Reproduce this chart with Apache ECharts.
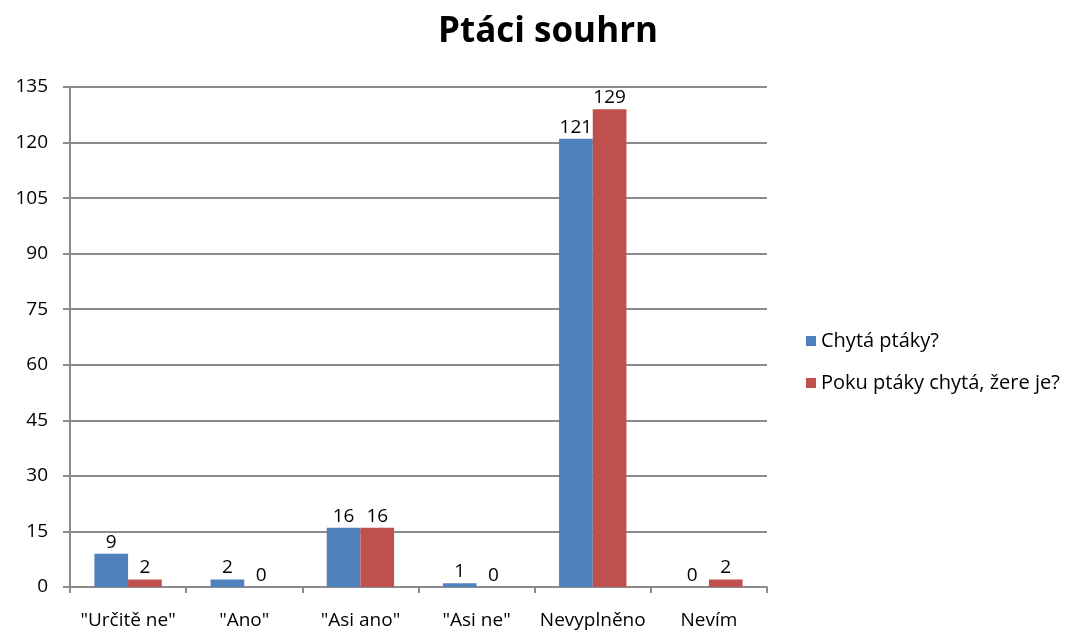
<!DOCTYPE html>
<html>
<head>
<meta charset="utf-8">
<script src="https://cdn.jsdelivr.net/npm/echarts@6/dist/echarts.min.js"></script>
<style>
  html, body { margin: 0; padding: 0; background: #fff; }
  #chart { width: 1075px; height: 635px; }
</style>
</head>
<body>
<div id="chart"></div>
<script>
// data
const categories = ['"Určitě ne"', '"Ano"', '"Asi ano"', '"Asi ne"', 'Nevyplněno', 'Nevím']
const chytaPtaky = [9, 2, 16, 1, 121, 0]
const zereJe = [2, 0, 16, 0, 129, 2]
const seriesNames = ['Chytá ptáky?', 'Poku ptáky chytá, žere je?']

const font = '"Open Sans", "Noto Sans", sans-serif'
const chart = echarts.init(document.getElementById('chart'))

const labelStyle = { show: true, position: 'top', distance: 2, fontFamily: font, fontSize: 19, color: '#000' }

const option = {
  animation: false,
  title: {
    text: 'Ptáci souhrn',
    left: 543,
    top: 10,
    textAlign: 'center',
    textStyle: { fontFamily: font, fontSize: 35, fontWeight: 'bold', color: '#000' }
  },
  legend: {
    orient: 'vertical',
    left: 801,
    top: 326,
    itemWidth: 10,
    itemHeight: 10,
    itemGap: 22,
    icon: 'rect',
    textStyle: { fontFamily: font, fontSize: 20, color: '#000' },
    data: seriesNames
  },
  grid: {
    left: 70,
    right: 308,
    top: 87,
    bottom: 48
  },
  xAxis: {
    type: 'category',
    data: categories,
    axisLine: { lineStyle: { color: '#8c8c8c', width: 2 } },
    axisTick: { show: true, length: 6, lineStyle: { color: '#8c8c8c', width: 2 } },
    axisLabel: { fontFamily: font, fontSize: 19, color: '#000', margin: 24, interval: 0 }
  },
  yAxis: {
    type: 'value',
    min: 0,
    max: 135,
    interval: 15,
    axisLine: { show: true, lineStyle: { color: '#8c8c8c', width: 2 } },
    axisTick: { show: true, length: 7, lineStyle: { color: '#8c8c8c', width: 2 } },
    axisLabel: { fontFamily: font, fontSize: 19, color: '#000', margin: 22 },
    splitLine: { lineStyle: { color: '#8c8c8c', width: 2 } }
  },
  series: [
    {
      name: seriesNames[0],
      type: 'bar',
      data: chytaPtaky,
      itemStyle: { color: '#4F81BD' },
      barGap: '0%',
      barCategoryGap: '42%',
      label: labelStyle
    },
    {
      name: seriesNames[1],
      type: 'bar',
      data: zereJe,
      itemStyle: { color: '#C0504D' },
      label: labelStyle
    }
  ]
}
chart.setOption(option)
</script>
</body>
</html>
